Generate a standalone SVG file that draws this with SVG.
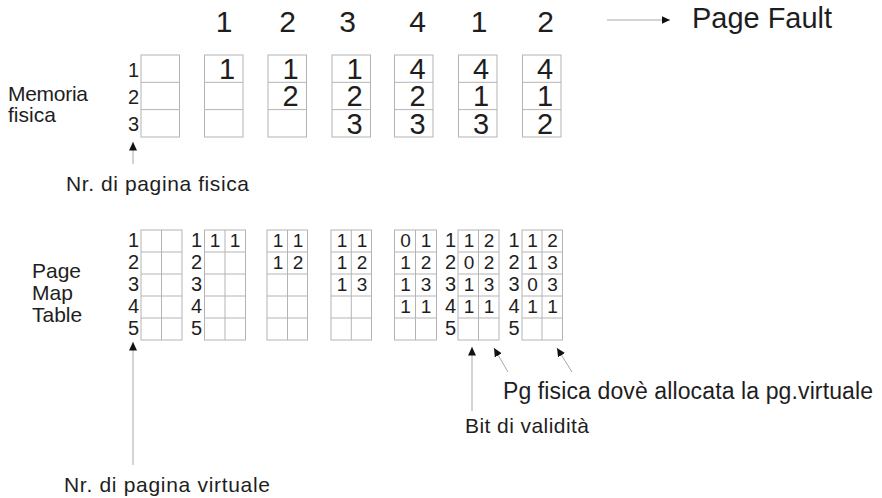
<svg xmlns="http://www.w3.org/2000/svg" width="882" height="498" viewBox="0 0 882 498">
<defs>
<style>
text{font-family:"Liberation Sans",Arial,sans-serif;fill:#1e1e1e}
.box{fill:#fff;stroke:#b4b4b4;stroke-width:1}
.ln{stroke:#b4b4b4;stroke-width:1;fill:none}
.big{font-size:29px;text-anchor:middle}
.lbl{font-size:20px;text-anchor:end}
.pt{font-size:19px;text-anchor:middle}
.cap{font-size:21px}
.con{stroke:#a8a8a8;stroke-width:1;fill:none;marker-end:url(#ah)}
</style>
<marker id="ah" markerUnits="userSpaceOnUse" markerWidth="9" markerHeight="8" refX="8.5" refY="4" orient="auto">
<path d="M0,0 L8.5,4 L0,8 z" fill="#111"/>
</marker>
</defs>
<rect width="882" height="498" fill="#fff"/>

<g id="sequence">
<text class="big" x="224" y="32" style="font-size:30px">1</text>
<text class="big" x="287.5" y="32" style="font-size:30px">2</text>
<text class="big" x="347.5" y="32" style="font-size:30px">3</text>
<text class="big" x="417.5" y="32" style="font-size:30px">4</text>
<text class="big" x="479" y="32" style="font-size:30px">1</text>
<text class="big" x="545.5" y="32" style="font-size:30px">2</text>
</g>
<g id="page-fault-label">
<text x="692" y="28" style="font-size:29px" textLength="140" lengthAdjust="spacingAndGlyphs">Page Fault</text>
</g>

<g id="memoria-label">
<text class="cap" x="8" y="101" textLength="80">Memoria</text>
<text class="cap" x="8" y="122">fisica</text>
</g>

<g id="mem1">
<rect class="box" x="141" y="55" width="38.5" height="82"/>
<path class="ln" d="M141,82.3H179.5M141,109.6H179.5"/>
<text class="lbl" x="139" y="77">1</text>
<text class="lbl" x="139" y="103.5">2</text>
<text class="lbl" x="139" y="130.5">3</text>
</g>
<g id="mem2">
<rect class="box" x="204.5" y="55" width="38.5" height="82"/>
<path class="ln" d="M204.5,82.3H243M204.5,109.6H243"/>
<text class="big" x="227" y="79">1</text>
</g>
<g id="mem3">
<rect class="box" x="268" y="55" width="38.5" height="82"/>
<path class="ln" d="M268,82.3H306.5M268,109.6H306.5"/>
<text class="big" x="290.5" y="79">1</text>
<text class="big" x="290.5" y="106">2</text>
</g>
<g id="mem4">
<rect class="box" x="332" y="55" width="38.5" height="82"/>
<path class="ln" d="M332,82.3H370.5M332,109.6H370.5"/>
<text class="big" x="354.5" y="79">1</text>
<text class="big" x="354.5" y="106">2</text>
<text class="big" x="354.5" y="133.5">3</text>
</g>
<g id="mem5">
<rect class="box" x="394.5" y="55" width="38.5" height="82"/>
<path class="ln" d="M394.5,82.3H433M394.5,109.6H433"/>
<text class="big" x="417.5" y="79">4</text>
<text class="big" x="417.5" y="106">2</text>
<text class="big" x="417.5" y="133.5">3</text>
</g>
<g id="mem6">
<rect class="box" x="458.5" y="55" width="38.5" height="82"/>
<path class="ln" d="M458.5,82.3H497M458.5,109.6H497"/>
<text class="big" x="481" y="79">4</text>
<text class="big" x="481" y="106">1</text>
<text class="big" x="481" y="133.5">3</text>
</g>
<g id="mem7">
<rect class="box" x="522.5" y="55" width="38.5" height="82"/>
<path class="ln" d="M522.5,82.3H561M522.5,109.6H561"/>
<text class="big" x="545" y="79">4</text>
<text class="big" x="545" y="106">1</text>
<text class="big" x="545" y="133.5">2</text>
</g>

<g id="nr-fisica-label">
<text class="cap" x="66" y="191" textLength="183">Nr. di pagina fisica</text>
</g>

<g id="pmt-label">
<text class="cap" x="32" y="278">Page</text>
<text class="cap" x="32" y="300">Map</text>
<text class="cap" x="32" y="322">Table</text>
</g>

<g id="pmt1">
<rect class="box" x="141" y="230" width="41" height="110"/>
<path class="ln" d="M161.5,230V340M141,252H182M141,274H182M141,296H182M141,318H182"/>
<text class="lbl" x="139" y="247">1</text>
<text class="lbl" x="139" y="269">2</text>
<text class="lbl" x="139" y="291">3</text>
<text class="lbl" x="139" y="313">4</text>
<text class="lbl" x="139" y="335">5</text>
</g>
<g id="pmt2">
<rect class="box" x="204.5" y="230" width="41" height="110"/>
<path class="ln" d="M225,230V340M204.5,252H245.5M204.5,274H245.5M204.5,296H245.5M204.5,318H245.5"/>
<text class="lbl" x="202" y="247">1</text>
<text class="lbl" x="202" y="269">2</text>
<text class="lbl" x="202" y="291">3</text>
<text class="lbl" x="202" y="313">4</text>
<text class="lbl" x="202" y="335">5</text>
<text class="pt" x="215" y="247">1</text><text class="pt" x="235" y="247">1</text>
</g>
<g id="pmt3">
<rect class="box" x="267" y="230" width="40.5" height="110"/>
<path class="ln" d="M287.5,230V340M267,252H307.5M267,274H307.5M267,296H307.5M267,318H307.5"/>
<text class="pt" x="278" y="247">1</text><text class="pt" x="298" y="247">1</text>
<text class="pt" x="278" y="269">1</text><text class="pt" x="298" y="269">2</text>
</g>
<g id="pmt4">
<rect class="box" x="331" y="230" width="40.5" height="110"/>
<path class="ln" d="M351.3,230V340M331,252H371.5M331,274H371.5M331,296H371.5M331,318H371.5"/>
<text class="pt" x="342" y="247">1</text><text class="pt" x="362" y="247">1</text>
<text class="pt" x="342" y="269">1</text><text class="pt" x="362" y="269">2</text>
<text class="pt" x="342" y="291">1</text><text class="pt" x="362" y="291">3</text>
</g>
<g id="pmt5">
<rect class="box" x="394.5" y="230" width="42" height="110"/>
<path class="ln" d="M415.5,230V340M394.5,252H436.5M394.5,274H436.5M394.5,296H436.5M394.5,318H436.5"/>
<text class="pt" x="405.5" y="247">0</text><text class="pt" x="426" y="247">1</text>
<text class="pt" x="405.5" y="269">1</text><text class="pt" x="426" y="269">2</text>
<text class="pt" x="405.5" y="291">1</text><text class="pt" x="426" y="291">3</text>
<text class="pt" x="405.5" y="313">1</text><text class="pt" x="426" y="313">1</text>
</g>
<g id="pmt6">
<rect class="box" x="458" y="230" width="41" height="110"/>
<path class="ln" d="M478.5,230V340M458,252H499M458,274H499M458,296H499M458,318H499"/>
<text class="lbl" x="456" y="247">1</text>
<text class="lbl" x="456" y="269">2</text>
<text class="lbl" x="456" y="291">3</text>
<text class="lbl" x="456" y="313">4</text>
<text class="lbl" x="456" y="335">5</text>
<text class="pt" x="469" y="247">1</text><text class="pt" x="489" y="247">2</text>
<text class="pt" x="469" y="269">0</text><text class="pt" x="489" y="269">2</text>
<text class="pt" x="469" y="291">1</text><text class="pt" x="489" y="291">3</text>
<text class="pt" x="469" y="313">1</text><text class="pt" x="489" y="313">1</text>
</g>
<g id="pmt7">
<rect class="box" x="522" y="230" width="40.5" height="110"/>
<path class="ln" d="M542,230V340M522,252H562.5M522,274H562.5M522,296H562.5M522,318H562.5"/>
<text class="lbl" x="519.5" y="247">1</text>
<text class="lbl" x="519.5" y="269">2</text>
<text class="lbl" x="519.5" y="291">3</text>
<text class="lbl" x="519.5" y="313">4</text>
<text class="lbl" x="519.5" y="335">5</text>
<text class="pt" x="532.5" y="247">1</text><text class="pt" x="552.5" y="247">2</text>
<text class="pt" x="532.5" y="269">1</text><text class="pt" x="552.5" y="269">3</text>
<text class="pt" x="532.5" y="291">0</text><text class="pt" x="552.5" y="291">3</text>
<text class="pt" x="532.5" y="313">1</text><text class="pt" x="552.5" y="313">1</text>
</g>

<g id="pg-fisica-label">
<text x="503" y="399" style="font-size:23px" textLength="370">Pg fisica dovè allocata la pg.virtuale</text>
</g>
<g id="bit-label">
<text x="465" y="433" style="font-size:21px" textLength="124">Bit di validità</text>
</g>
<g id="nr-virtuale-label">
<text class="cap" x="64" y="492" textLength="206">Nr. di pagina virtuale</text>
</g>

<g id="connectors">
<line class="con" x1="607" y1="20" x2="670" y2="20"/>
<line class="con" x1="133" y1="164" x2="133" y2="142"/>
<line class="con" x1="133" y1="465" x2="133" y2="342"/>
<line class="con" x1="472" y1="411" x2="472" y2="347"/>
<line class="con" x1="508" y1="372" x2="494" y2="348"/>
<line class="con" x1="572" y1="372" x2="557" y2="348"/>
</g>
</svg>
